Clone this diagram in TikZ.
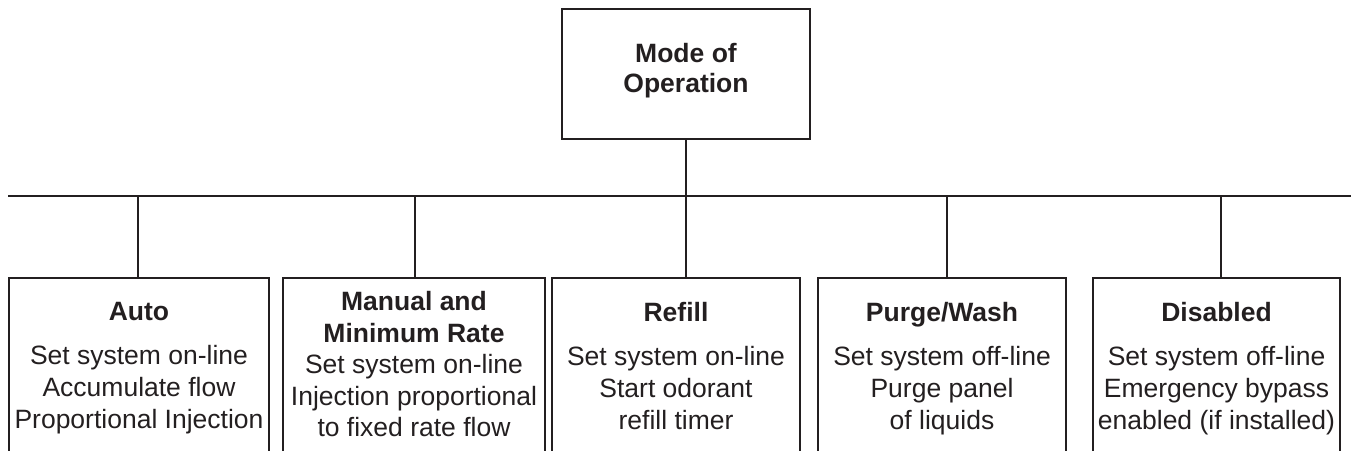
\documentclass[tikz,border=0pt]{standalone}
\usepackage{fontspec}
\setmainfont{Liberation Sans}
\definecolor{ink}{HTML}{231F20}
\tikzset{
  frame/.style={draw=ink, line width=2bp, fill=none, inner sep=0pt, anchor=north west},
  conn/.style={draw=ink, line width=2bp},
  txt/.style={text=ink, align=center, inner sep=0pt, anchor=north,
    font=\fontsize{26.5bp}{31.6bp}\selectfont},
}
\begin{document}
\begin{tikzpicture}[x=1bp,y=-1bp]
\useasboundingbox (0,0) rectangle (1351,451);
\clip (0,0) rectangle (1351,451);
% top box
\node[frame, minimum width=248bp, minimum height=130bp] (mode) at (561,8) {};
\node[txt, font=\fontsize{26.5bp}{30bp}\selectfont\bfseries] (modet) at ([yshift=-35bp]mode.north) {Mode of\\Operation};
% bus
\coordinate (busL) at (8,196);
\coordinate (busR) at (1351,196);
\draw[conn] (busL) -- (busR);
\draw[conn] (mode.south) -- (mode.south |- busL);
% child boxes
\node[frame, minimum width=260bp, minimum height=200bp] (auto) at (8,277) {};
\node[frame, minimum width=262bp, minimum height=200bp] (manual) at (282,277) {};
\node[frame, minimum width=248bp, minimum height=200bp] (refill) at (551,277) {};
\node[frame, minimum width=248bp, minimum height=200bp] (purge) at (817,277) {};
\node[frame, minimum width=247bp, minimum height=200bp] (disabled) at (1092,277) {};
% stems
\draw[conn] ([xshift=-1bp]auto.north) -- ([xshift=-1bp]auto.north |- busL);
\draw[conn] ([xshift=1bp]manual.north) -- ([xshift=1bp]manual.north |- busL);
\draw[conn] (refill.north -| mode.south) -- (mode.south |- busL);
\draw[conn] ([xshift=5bp]purge.north) -- ([xshift=5bp]purge.north |- busL);
\draw[conn] ([xshift=4.5bp]disabled.north) -- ([xshift=4.5bp]disabled.north |- busL);
% texts
\node[txt] (autot) at ([yshift=-25.5bp]auto.north) {\textbf{Auto}\\[12.4bp]Set system on-line\\Accumulate flow\\Proportional Injection};
\node[txt] (manualt) at ([yshift=-14bp]manual.north) {\textbf{Manual and}\\\textbf{Minimum Rate}\\Set system on-line\\Injection proportional\\to fixed rate flow};
\node[txt] (refillt) at ([yshift=-25.5bp]refill.north) {\textbf{Refill}\\[12.4bp]Set system on-line\\Start odorant\\refill timer};
\node[txt] (purget) at ([yshift=-25.5bp]purge.north) {\textbf{Purge/Wash}\\[12.4bp]Set system off-line\\Purge panel\\of liquids};
\node[txt] (disabledt) at ([yshift=-25.5bp]disabled.north) {\textbf{Disabled}\\[12.4bp]Set system off-line\\Emergency bypass\\enabled (if installed)};
\end{tikzpicture}
\end{document}
